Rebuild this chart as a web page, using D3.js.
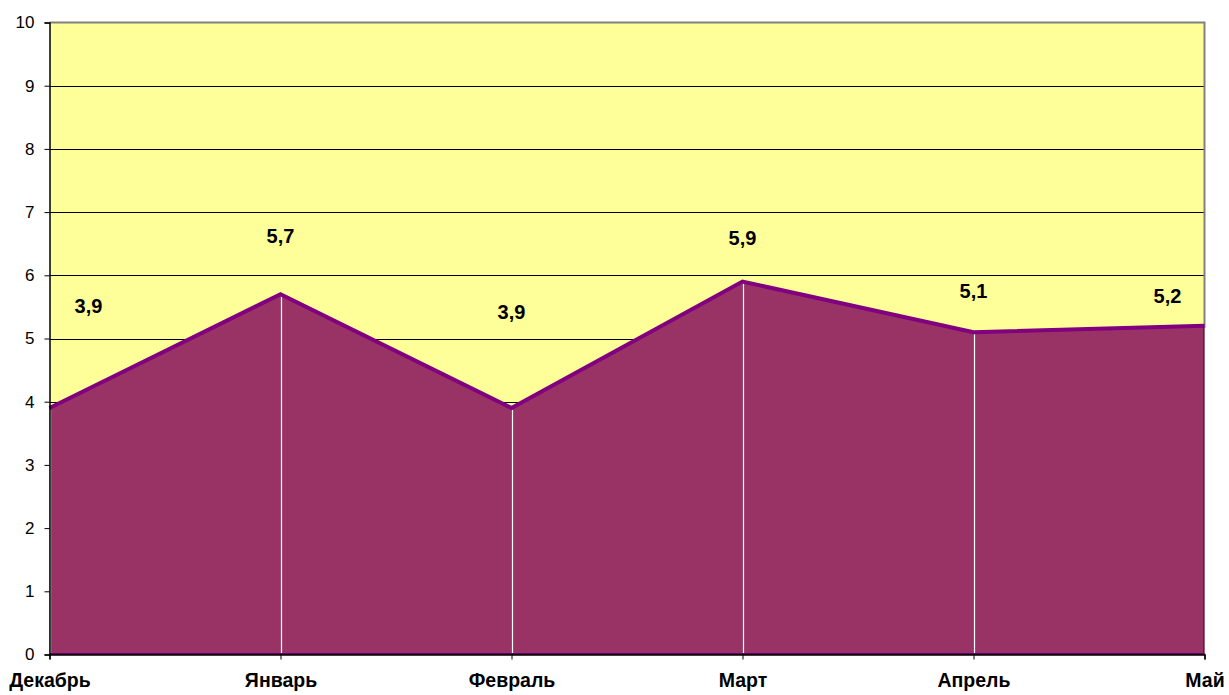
<!DOCTYPE html>
<html><head><meta charset="utf-8">
<script src="https://cdn.jsdelivr.net/npm/d3@7"></script>
<style>body{margin:0;background:#fff}svg{display:block;font-family:"Liberation Sans",Arial,sans-serif}</style>
</head><body>
<svg id="c" width="1229" height="695"></svg>
<script>
const categories = ["Декабрь","Январь","Февраль","Март","Апрель","Май"];
const values = [3.9, 5.7, 3.9, 5.9, 5.1, 5.2];
const valueLabels = ["3,9","5,7","3,9","5,9","5,1","5,2"];
const yTicks = [0,1,2,3,4,5,6,7,8,9,10];

// label layout (pixel offsets above each point, and horizontal shifts)
const labelDy = [-100, -57, -94, -42, -39, -28];
const labelDx = [39, 0, 0, 0, 0, -37];

const svg = d3.select("#c");
const L = 49.5, R = 1204.5, T = 22.5, B = 654.5;
const x = d3.scalePoint().domain(categories).range([L, R]);
const y = d3.scaleLinear().domain([0, 10]).range([B, T]);

svg.append("rect").attr("x", L).attr("y", T).attr("width", R - L).attr("height", B - T).attr("fill", "#ffff99");

svg.append("g").selectAll("line").data(yTicks.filter(d => d > 0 && d < 10)).join("line")
  .attr("x1", L).attr("x2", R).attr("y1", d => Math.round(y(d)) + 0.5).attr("y2", d => Math.round(y(d)) + 0.5)
  .attr("stroke", "#000").attr("stroke-width", 1);

// border top/right
svg.append("path").attr("d", `M${L},${T}H${R}V${B}`).attr("fill", "none").attr("stroke", "#808080").attr("stroke-width", 2);

const area = d3.area().x((d, i) => x(categories[i])).y0(y(0)).y1(d => y(d));
svg.append("path").datum(values).attr("d", area).attr("fill", "#993366");

// white drop lines
svg.append("g").selectAll("line").data(values).join("line")
  .attr("x1", (d, i) => Math.round(x(categories[i])) + 0.5).attr("x2", (d, i) => Math.round(x(categories[i])) + 0.5)
  .attr("y1", d => y(d) + 2).attr("y2", y(0) - 1)
  .attr("stroke", "#ffffff").attr("stroke-width", 1.2);

const line = d3.line().x((d, i) => x(categories[i])).y(d => y(d));
svg.append("path").datum(values).attr("d", line).attr("fill", "none").attr("stroke", "#800080").attr("stroke-width", 4).attr("stroke-linejoin", "miter");
svg.append("line").attr("x1", L).attr("x2", R).attr("y1", B - 0.5).attr("y2", B - 0.5).attr("stroke", "#660066").attr("stroke-width", 2);
svg.append("line").attr("x1", R - 1).attr("x2", R - 1).attr("y1", y(values[5])).attr("y2", B).attr("stroke", "#800080").attr("stroke-width", 1);

// axes
const yAxis = d3.axisLeft(y).tickValues(yTicks).tickSize(5).tickPadding(10).tickFormat(d3.format("d"));
const gy = svg.append("g").attr("transform", `translate(${L},0)`).call(yAxis);
gy.select(".domain").attr("stroke", "#000").attr("stroke-width", 1.5);
gy.selectAll(".tick line").attr("stroke", "#000");
gy.selectAll("text").attr("font-size", 17).attr("font-family", "Liberation Sans, Arial").attr("fill", "#000");

const xAxis = d3.axisBottom(x).tickSize(5).tickPadding(14);
const gx = svg.append("g").attr("transform", `translate(0,${B})`).call(xAxis);
gx.select(".domain").attr("stroke", "#000").attr("stroke-width", 1.5);
gx.selectAll(".tick line").attr("stroke", "#000");
gx.selectAll("text").attr("font-size", 19.5).attr("font-weight", "bold").attr("font-family", "Liberation Sans, Arial").attr("fill", "#000");

// data labels
svg.append("g").selectAll("text").data(values).join("text")
  .attr("x", (d, i) => x(categories[i]) + labelDx[i])
  .attr("y", (d, i) => y(d) + labelDy[i])
  .attr("text-anchor", "middle").attr("dominant-baseline", "middle")
  .attr("font-size", 20).attr("font-weight", "bold").attr("fill", "#000")
  .text((d, i) => valueLabels[i]);
</script>
</body></html>
